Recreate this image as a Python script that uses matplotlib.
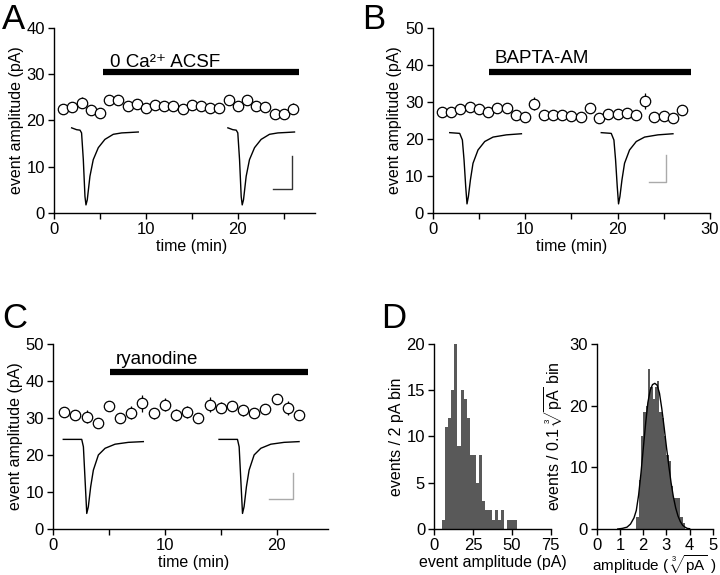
import numpy as np
import matplotlib
matplotlib.use('Agg')
import matplotlib.pyplot as plt
from matplotlib.ticker import MultipleLocator

plt.rcParams.update({'font.family': ['Liberation Sans', 'DejaVu Sans'],
                     'mathtext.fontset': 'custom',
                     'mathtext.rm': 'Liberation Sans',
                     'mathtext.it': 'Liberation Sans:italic',
                     'mathtext.bf': 'Liberation Sans:bold',
                     'axes.linewidth': 1.0,
                     'xtick.major.width': 1.0, 'ytick.major.width': 1.0,
                     'xtick.minor.width': 1.0,
                     'xtick.major.size': 4, 'ytick.major.size': 4, 'xtick.minor.size': 4,
                     'xtick.major.pad': 2.5, 'ytick.major.pad': 2.5,
                     'xtick.labelsize': 12, 'ytick.labelsize': 12,
                     'axes.labelsize': 11.5})

# ---- panel A: 0 Ca2+ ACSF
a_time = np.arange(1, 27)
a_amp = [22.5, 22.9, 23.8, 22.2, 21.6, 24.4, 24.5, 23.1, 23.6, 22.7, 23.4, 23.1, 23.1,
         22.5, 23.4, 23.1, 22.6, 22.6, 24.4, 23.2, 24.4, 23.1, 22.9, 21.3, 21.5, 22.5]
a_err = [0.5, 0.5, 1.2, 0.5, 0.5, 0.6, 0.6, 0.5, 0.5, 0.5, 0.5, 0.5, 0.5,
         0.5, 0.5, 0.5, 0.5, 0.5, 0.6, 0.5, 0.6, 0.5, 0.5, 0.5, 0.5, 1.2]
a_drug = (5.3, 26.7, 30.4)
a_label_pos = (6.1, 31.65)
a_trace_t = [1.92, 2.46, 2.83, 3.0, 3.19, 3.37, 3.48, 3.62, 3.91, 4.27, 4.82, 5.54, 6.45, 7.36, 8.3, 9.17]
a_trace_v = [18.4, 18.0, 17.9, 17.3, 11.5, 3.5, 1.7, 2.8, 7.9, 11.5, 14.1, 15.9, 17.0, 17.3, 17.4, 17.5]
a_trace_shift = 17.0
a_scale = ([23.8, 25.9, 25.9], [5.2, 5.2, 12.3])

# ---- panel B: BAPTA-AM
b_time = np.arange(1, 28)
b_amp = [27.2, 27.2, 28.1, 28.6, 28.1, 27.2, 28.3, 28.3, 26.5, 25.9, 29.5, 26.5, 26.5, 26.5,
         26.1, 25.9, 28.3, 25.8, 26.7, 26.8, 27.0, 26.5, 30.3, 25.9, 26.3, 25.8, 27.9]
b_err = [0.5, 0.5, 0.5, 0.6, 0.5, 0.5, 0.5, 0.5, 0.5, 0.5, 1.8, 0.5, 0.5, 0.5,
         0.5, 0.5, 0.6, 0.5, 0.5, 0.5, 0.5, 0.5, 2.2, 0.5, 0.5, 0.5, 0.6]
b_drug = (6.1, 28.0, 38.0)
b_label_pos = (6.7, 40.6)
b_trace_t = [1.84, 2.92, 3.21, 3.39, 3.57, 3.71, 3.86, 4.08, 4.36, 4.9, 5.63, 6.53, 7.97, 9.6]
b_trace_v = [21.7, 21.5, 19.7, 14.3, 7.1, 2.4, 4.4, 8.9, 13.4, 17.0, 19.3, 20.5, 21.1, 21.4]
b_trace_shift = 16.4
b_scale = ([23.4, 25.3, 25.3], [8.2, 8.2, 15.7])

# ---- panel C: ryanodine
c_time = np.arange(1, 23)
c_amp = [31.7, 30.8, 30.3, 28.5, 33.2, 29.9, 31.4, 33.9, 31.2, 33.6, 30.8, 31.5, 30.0,
         33.6, 32.7, 33.3, 32.1, 31.2, 32.5, 35.0, 32.7, 30.7]
c_err = [0.8, 0.8, 1.8, 0.8, 0.8, 0.8, 1.8, 2.3, 1.5, 1.7, 1.5, 1.6, 0.8,
         2.0, 1.5, 1.4, 1.5, 0.8, 0.9, 1.0, 1.8, 0.8]
c_drug = (5.1, 22.8, 42.3)
c_label_pos = (5.6, 44.65)
c_trace_t = [0.92, 2.57, 2.72, 2.87, 3.02, 3.16, 3.37, 3.61, 4.06, 4.66, 5.55, 6.74, 8.08]
c_trace_v = [24.2, 24.2, 22.2, 13.2, 4.2, 6.0, 11.4, 15.9, 20.0, 21.8, 22.9, 23.4, 23.6]
c_trace_shift = 13.93
c_scale = ([19.3, 21.5, 21.5], [8.1, 8.1, 15.2])

# ---- panel D: amplitude histograms
d_lin_edges = [5, 7, 9, 11, 13, 15, 17, 19, 21, 23, 25, 27, 29, 31, 33, 35, 37, 39, 41, 43, 45, 47, 49, 51]
d_lin_counts = [1, 11, 12, 15, 20, 9, 15, 14, 12, 8, 8, 5, 8, 3, 2, 2, 1, 2, 1, 2, 0, 1, 1, 1]
d_cub_edges = [1.7, 1.8, 1.9, 2.0, 2.1, 2.2, 2.3, 2.4, 2.5, 2.6, 2.7, 2.8, 2.9, 3.0,
               3.1, 3.2, 3.3, 3.4, 3.5, 3.6, 3.7]
d_cub_counts = [2, 8, 15, 19, 20, 26, 23, 21, 23, 24, 19, 18, 15, 12, 11, 7, 5, 5, 5, 2, 1]
fit_x = [0.9, 1.1, 1.3, 1.45, 1.6, 1.7, 1.8, 1.9, 2.0, 2.1, 2.2, 2.3, 2.4, 2.5, 2.6, 2.7,
         2.8, 2.9, 3.0, 3.1, 3.2, 3.3, 3.4, 3.5, 3.6, 3.7, 3.8, 3.9, 4.0]
fit_y = [0.0, 0.1, 0.3, 0.8, 1.8, 3.0, 5.5, 9.0, 13.0, 17.0, 20.5, 22.5, 23.4, 23.6, 23.3, 22.0,
         19.5, 16.5, 13.3, 10.3, 7.5, 5.2, 3.4, 2.1, 1.2, 0.6, 0.3, 0.1, 0.05]


def style(ax):
    ax.spines['top'].set_visible(False)
    ax.spines['right'].set_visible(False)
    ax.tick_params(direction='out', which='both')


def bottom_label(ax, text, xpos=0.5, ypos=-0.205, size=11.5):
    # place x label baseline at a fixed distance under the axis
    ax.set_xlabel(text, fontsize=size)
    ax.xaxis.label.set_va('baseline')
    ax.xaxis.set_label_coords(xpos, ypos)


def time_panel(ax, t, amp, err, drug, label, label_pos, tr_t, tr_v, shift, scale, scale_col,
               ymax, xmax, xlab_pos=0.5):
    style(ax)
    tr_t = np.array(tr_t)
    ax.plot(tr_t, tr_v, color='k', lw=1.0, zorder=2)
    ax.plot(tr_t + shift, tr_v, color='k', lw=1.0, zorder=2)
    ax.plot(scale[0], scale[1], color=scale_col, lw=1.0, zorder=2)
    ax.errorbar(t, amp, yerr=err, fmt='o', ms=7.5, mfc='white', mec='k', mew=0.9,
                ecolor='k', elinewidth=0.9, capsize=0, zorder=3)
    ax.plot([drug[0], drug[1]], [drug[2], drug[2]], color='k', lw=4.5, solid_capstyle='butt')
    ax.text(label_pos[0], label_pos[1], label, fontsize=13.5, ha='left', va='baseline')
    ax.set_xlim(0, xmax)
    ax.set_ylim(0, ymax)
    ax.xaxis.set_major_locator(MultipleLocator(10))
    ax.xaxis.set_minor_locator(MultipleLocator(5))
    ax.yaxis.set_major_locator(MultipleLocator(10))
    bottom_label(ax, 'time (min)', xpos=xlab_pos)
    ax.set_ylabel('event amplitude (pA)', labelpad=2)


fig = plt.figure(figsize=(7.2, 5.75), dpi=100)

ax_a = fig.add_axes([0.075, 0.630, 0.3625, 0.321])
time_panel(ax_a, a_time, a_amp, a_err, a_drug, '0 Ca²⁺ ACSF', a_label_pos,
           a_trace_t, a_trace_v, a_trace_shift, a_scale, '#333333', 40, 28.4, xlab_pos=0.528)

ax_b = fig.add_axes([0.601, 0.630, 0.385, 0.321])
time_panel(ax_b, b_time, b_amp, b_err, b_drug, 'BAPTA-AM', b_label_pos, b_trace_t, b_trace_v,
           b_trace_shift, b_scale, '#aaaaaa', 50, 30)

ax_c = fig.add_axes([0.0736, 0.080, 0.382, 0.322])
time_panel(ax_c, c_time, c_amp, c_err, c_drug, 'ryanodine', c_label_pos, c_trace_t, c_trace_v,
           c_trace_shift, c_scale, '#aaaaaa', 50, 24.6, xlab_pos=0.51)

ax_dl = fig.add_axes([0.603, 0.080, 0.162, 0.322])
style(ax_dl)
ax_dl.bar(d_lin_edges, d_lin_counts, width=2, align='edge', color='#595959', linewidth=0)
ax_dl.set_xlim(0, 75)
ax_dl.set_ylim(0, 20)
ax_dl.set_xticks([0, 25, 50, 75])
ax_dl.set_yticks([0, 5, 10, 15, 20])
bottom_label(ax_dl, 'event amplitude (pA)')
ax_dl.set_ylabel('events / 2 pA bin', labelpad=2)

ax_dr = fig.add_axes([0.829, 0.080, 0.161, 0.322])
style(ax_dr)
ax_dr.bar(d_cub_edges, d_cub_counts, width=0.1, align='edge', color='#595959', linewidth=0)
ax_dr.plot(fit_x, fit_y, color='k', lw=1.0)
ax_dr.set_xlim(0, 5)
ax_dr.set_ylim(0, 30)
ax_dr.set_xticks([0, 1, 2, 3, 4, 5])
ax_dr.set_yticks([0, 10, 20, 30])
bottom_label(ax_dr, r'amplitude ( $\sqrt[3]{\mathrm{pA}}$ )', xpos=0.49, ypos=-0.225, size=11)
ax_dr.set_ylabel(r'events / 0.1 $\sqrt[3]{\mathrm{pA}}$ bin', labelpad=2)

for x, y, s in [(0.003, 0.995, 'A'), (0.503, 0.995, 'B'), (0.003, 0.475, 'C'), (0.53, 0.475, 'D')]:
    fig.text(x, y, s, fontsize=25, ha='left', va='top')

fig.savefig('out.png', dpi=100)
